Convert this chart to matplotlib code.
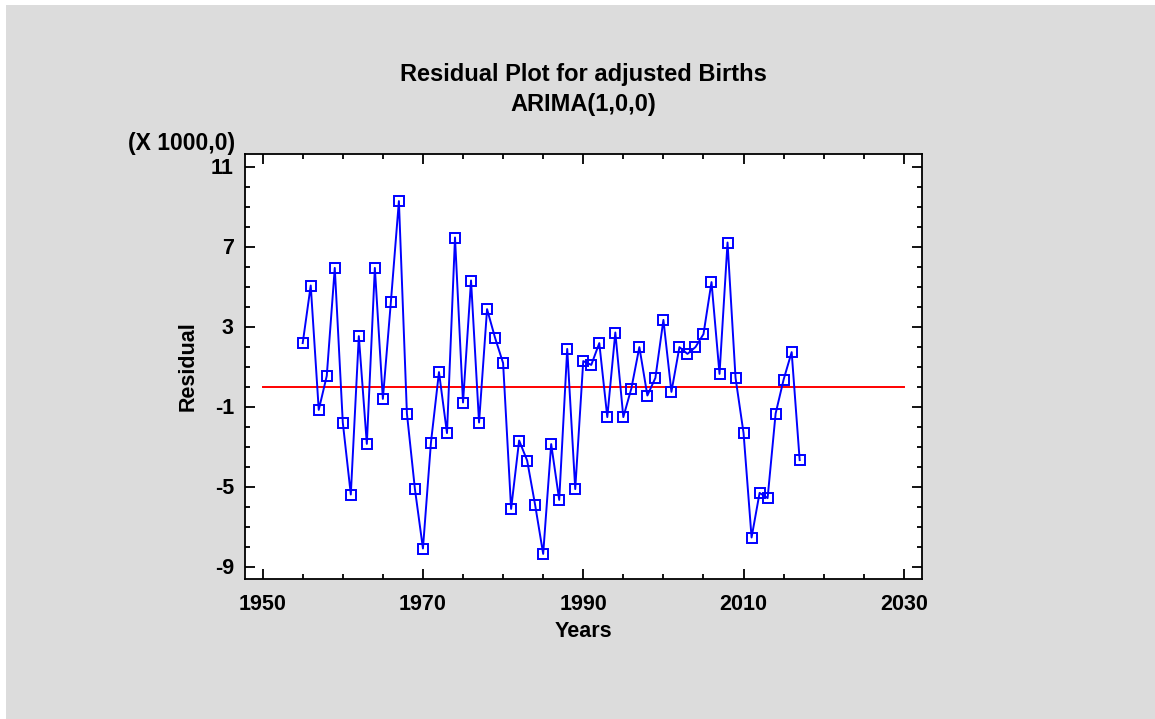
import numpy as np
import matplotlib
matplotlib.use("Agg")
import matplotlib.pyplot as plt
from matplotlib.patches import Rectangle
from matplotlib.ticker import MultipleLocator

plt.rcParams['font.family'] = ['Liberation Sans', 'DejaVu Sans']
plt.rcParams['font.weight'] = 'bold'
plt.rcParams['axes.unicode_minus'] = False

# ARIMA(1,0,0) residuals of adjusted births, one per year
years = list(range(1955, 2018))
residuals = [
    2170, 5050, -1170, 530, 5930, -1800, -5400, 2520, -2870, 5930,
    -620, 4230, 9270, -1350, -5130, -8100, -2800, 720, -2330, 7450,
    -800, 5300, -1800, 3870, 2430, 1170, -6120, -2700, -3700, -5930,
    -8370, -2880, -5670, 1880, -5130, 1270, 1080, 2170, -1530, 2700,
    -1530, -100, 1970, -450, 430, 3330, -270, 1970, 1630, 1970,
    2620, 5220, 630, 7200, 430, -2330, -7550, -5320, -5580, -1350,
    350, 1720, -3680,
]
zero_line_x = [1950, 2030]
zero_line_y = [0, 0]
x_ticks = [1950, 1970, 1990, 2010, 2030]
y_ticks = [-9, -5, -1, 3, 7, 11]

W, H = 1155, 719
fig = plt.figure(figsize=(W / 100, H / 100), dpi=100, facecolor='white')
fig.patches.append(Rectangle((6 / W, 0), 1, (H - 5) / H, transform=fig.transFigure,
                             facecolor='#dcdcdc', edgecolor='none', zorder=-10))

ax = fig.add_axes([245 / W, (H - 578.5) / H, (921.5 - 245) / W, (578.5 - 153.5) / H])
ax.set_zorder(5)
ax.set_facecolor('white')

scaled = np.array(residuals) / 1000.0
ax.plot(zero_line_x, zero_line_y, color='#ff0000', lw=1.4, zorder=2)
ax.plot(years, scaled, color='#0000ff', lw=1.4, marker='s', markersize=6.5,
        markerfacecolor='none', markeredgecolor='#0000ff', markeredgewidth=1.4, zorder=3)

ax.set_xlim(1947.8, 2032.2)
ax.set_ylim(-9.6, 11.65)
ax.set_xticks(x_ticks)
ax.xaxis.set_minor_locator(MultipleLocator(5))
ax.set_yticks(y_ticks)
ax.yaxis.set_minor_locator(MultipleLocator(1))

for s in ax.spines.values():
    s.set_linewidth(1.3)
ax.tick_params(which='both', direction='in', top=True, right=True, width=1.3,
               labelsize=15.5)
ax.tick_params(which='major', length=7)
ax.tick_params(which='minor', length=3.5)
ax.tick_params(axis='x', pad=11)
ax.tick_params(axis='y', pad=8)
for lbl in ax.get_xticklabels() + ax.get_yticklabels():
    lbl.set_fontweight('bold')

ax.set_xlabel('Years', fontsize=15.5, fontweight='bold', labelpad=4.5)
ax.set_ylabel('Residual', fontsize=15.5, fontweight='bold', labelpad=9)

ax.text(-0.015, 0.996, '(X 1000,0)', transform=ax.transAxes, ha='right', va='bottom',
        fontsize=16.5, fontweight='bold')
fig.text(583 / W, 1 - 74 / H, 'Residual Plot for adjusted Births', ha='center',
         va='center', fontsize=17, fontweight='bold')
fig.text(583 / W, 1 - 105 / H, 'ARIMA(1,0,0)', ha='center', va='center',
         fontsize=17, fontweight='bold')

fig.savefig('out.png', dpi=100, facecolor=fig.get_facecolor())
